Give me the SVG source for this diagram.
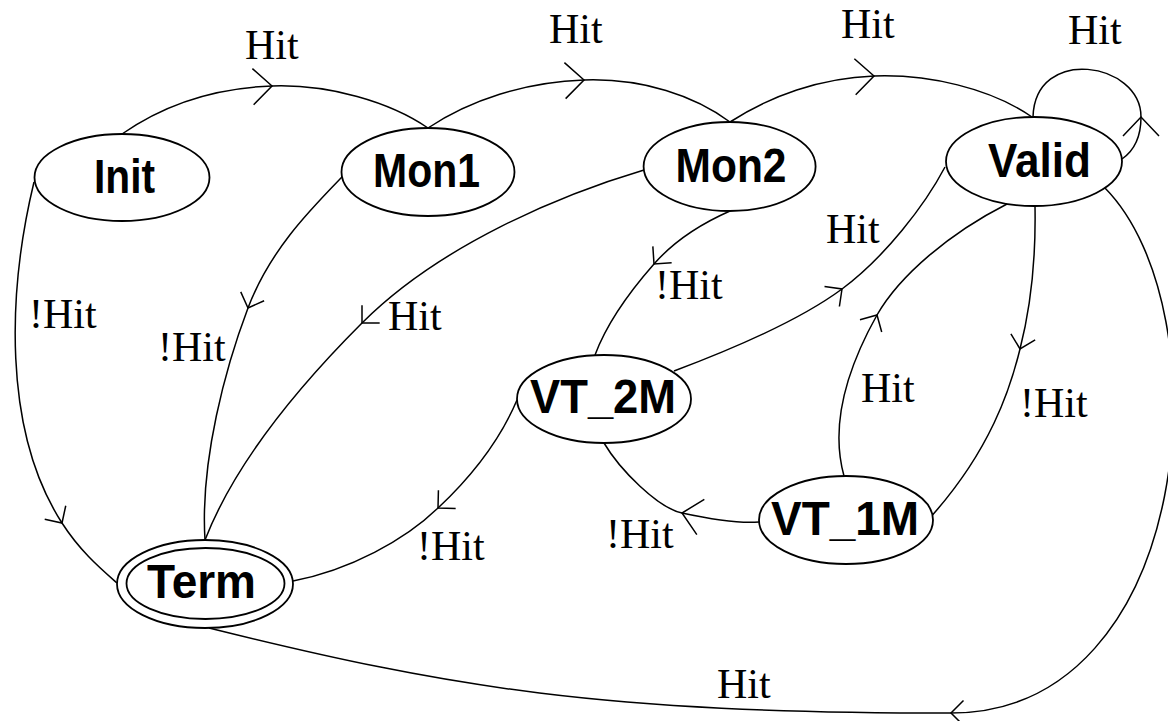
<svg xmlns="http://www.w3.org/2000/svg" width="1168" height="721" viewBox="0 0 1168 721">
<style>
.node{fill:none;stroke:#000;stroke-width:1.8}
.name{font-family:"Liberation Sans",Arial,sans-serif;font-weight:bold;font-size:49px;fill:#000;text-anchor:middle}
.edge{fill:none;stroke:#000;stroke-width:1.5}
.big{marker-mid:url(#arrowBig)}
.small{marker-mid:url(#arrowSmall)}
.lbl{font-family:"Liberation Serif","Times New Roman",serif;font-size:42px;fill:#000}
</style>
<defs>
<marker id="arrowBig" markerUnits="userSpaceOnUse" orient="auto" overflow="visible" markerWidth="1" markerHeight="1" refX="0" refY="0">
<path d="M-19,-18 L0,0 L-19,18" fill="none" stroke="#000" stroke-width="1.5"/>
</marker>
<marker id="arrowSmall" markerUnits="userSpaceOnUse" orient="auto" overflow="visible" markerWidth="1" markerHeight="1" refX="0" refY="0">
<path d="M-12.5,-12.5 L0,0 L-12.5,12.5" fill="none" stroke="#000" stroke-width="1.5"/>
</marker>
</defs>
<rect width="1168" height="721" fill="#fff"/>
<g id="connectors">
<path class="edge big" d="M122,134 C165,104 215,88 272,86 C329,84 390,102 428,128"/>
<path class="edge big" d="M428,128 C470,100 525,82 584,80 C643,78 695,96 730,122"/>
<path class="edge big" d="M730,122 C770,96 820,78 874,76 C928,74 990,88 1032,117"/>
<path class="edge big" d="M1122,159 C1135,150 1141,135 1141,117 C1141,62 1035,45 1033,117"/>
<path class="edge small" d="M34,182 C8,290 2,430 62,523 C80,551 100,568 117,583"/>
<path class="edge small" d="M342,177 C310,210 270,250 248,308 C226,366 200,460 205,540"/>
<path class="edge small" d="M644,170 C560,195 440,245 362,323 C320,365 240,450 205,540"/>
<path class="edge small" d="M730,211 C705,222 675,240 654,264 C632,289 608,320 595,355"/>
<path class="edge small" d="M674,371 C730,350 800,320 842,289 C885,257 925,205 945,167"/>
<path class="edge small" d="M844,476 C834,440 835,390 877,315 C900,275 950,233 1007,204"/>
<path class="edge small" d="M1035,206 C1036,260 1030,310 1020,349 C1010,390 990,450 932.5,515"/>
<path class="edge big" d="M759,522 C735,524 705,518 682,513 C658,508 620,470 604,443"/>
<path class="edge small" d="M517,400 C500,440 470,478 438,508 C405,540 350,570 293,581"/>
<path class="edge small" d="M1105,188 C1225,310 1195,713 951,713 C601,713 451,688 209,628"/>
</g>
<g id="labels">
<text class="lbl" x="245" y="59">Hit</text>
<text class="lbl" x="549" y="43">Hit</text>
<text class="lbl" x="841" y="38">Hit</text>
<text class="lbl" x="1068" y="44">Hit</text>
<text class="lbl" x="29" y="328">!Hit</text>
<text class="lbl" x="158" y="361">!Hit</text>
<text class="lbl" x="388" y="330">Hit</text>
<text class="lbl" x="655" y="299">!Hit</text>
<text class="lbl" x="826" y="243">Hit</text>
<text class="lbl" x="861" y="402">Hit</text>
<text class="lbl" x="1020" y="417">!Hit</text>
<text class="lbl" x="606" y="548">!Hit</text>
<text class="lbl" x="417" y="560">!Hit</text>
<text class="lbl" x="717" y="698">Hit</text>
</g>
<g id="node-init">
<ellipse class="node" cx="122" cy="177.5" rx="87.5" ry="43.5"/>
<text class="name" x="124.5" y="193" textLength="61" lengthAdjust="spacingAndGlyphs">Init</text>
</g>
<g id="node-mon1">
<ellipse class="node" cx="428" cy="172" rx="86.5" ry="44"/>
<text class="name" x="426.5" y="187" textLength="107" lengthAdjust="spacingAndGlyphs">Mon1</text>
</g>
<g id="node-mon2">
<ellipse class="node" cx="729.6" cy="166.5" rx="86" ry="44.5"/>
<text class="name" x="731" y="182" textLength="111" lengthAdjust="spacingAndGlyphs">Mon2</text>
</g>
<g id="node-valid">
<ellipse class="node" cx="1034" cy="161.5" rx="88" ry="44.5"/>
<text class="name" x="1039.5" y="177" textLength="103" lengthAdjust="spacingAndGlyphs">Valid</text>
</g>
<g id="node-vt2m">
<ellipse class="node" cx="604" cy="399" rx="87" ry="44"/>
<text class="name" x="603" y="413" textLength="146" lengthAdjust="spacingAndGlyphs">VT_2M</text>
</g>
<g id="node-vt1m">
<ellipse class="node" cx="846" cy="520" rx="87" ry="44"/>
<text class="name" x="845" y="535" textLength="148" lengthAdjust="spacingAndGlyphs">VT_1M</text>
</g>
<g id="node-term">
<ellipse class="node" cx="205" cy="584" rx="88" ry="44"/>
<ellipse class="node" cx="205.5" cy="583.5" rx="79" ry="35.5"/>
<text class="name" x="201.5" y="598" textLength="109" lengthAdjust="spacingAndGlyphs">Term</text>
</g>
</svg>
